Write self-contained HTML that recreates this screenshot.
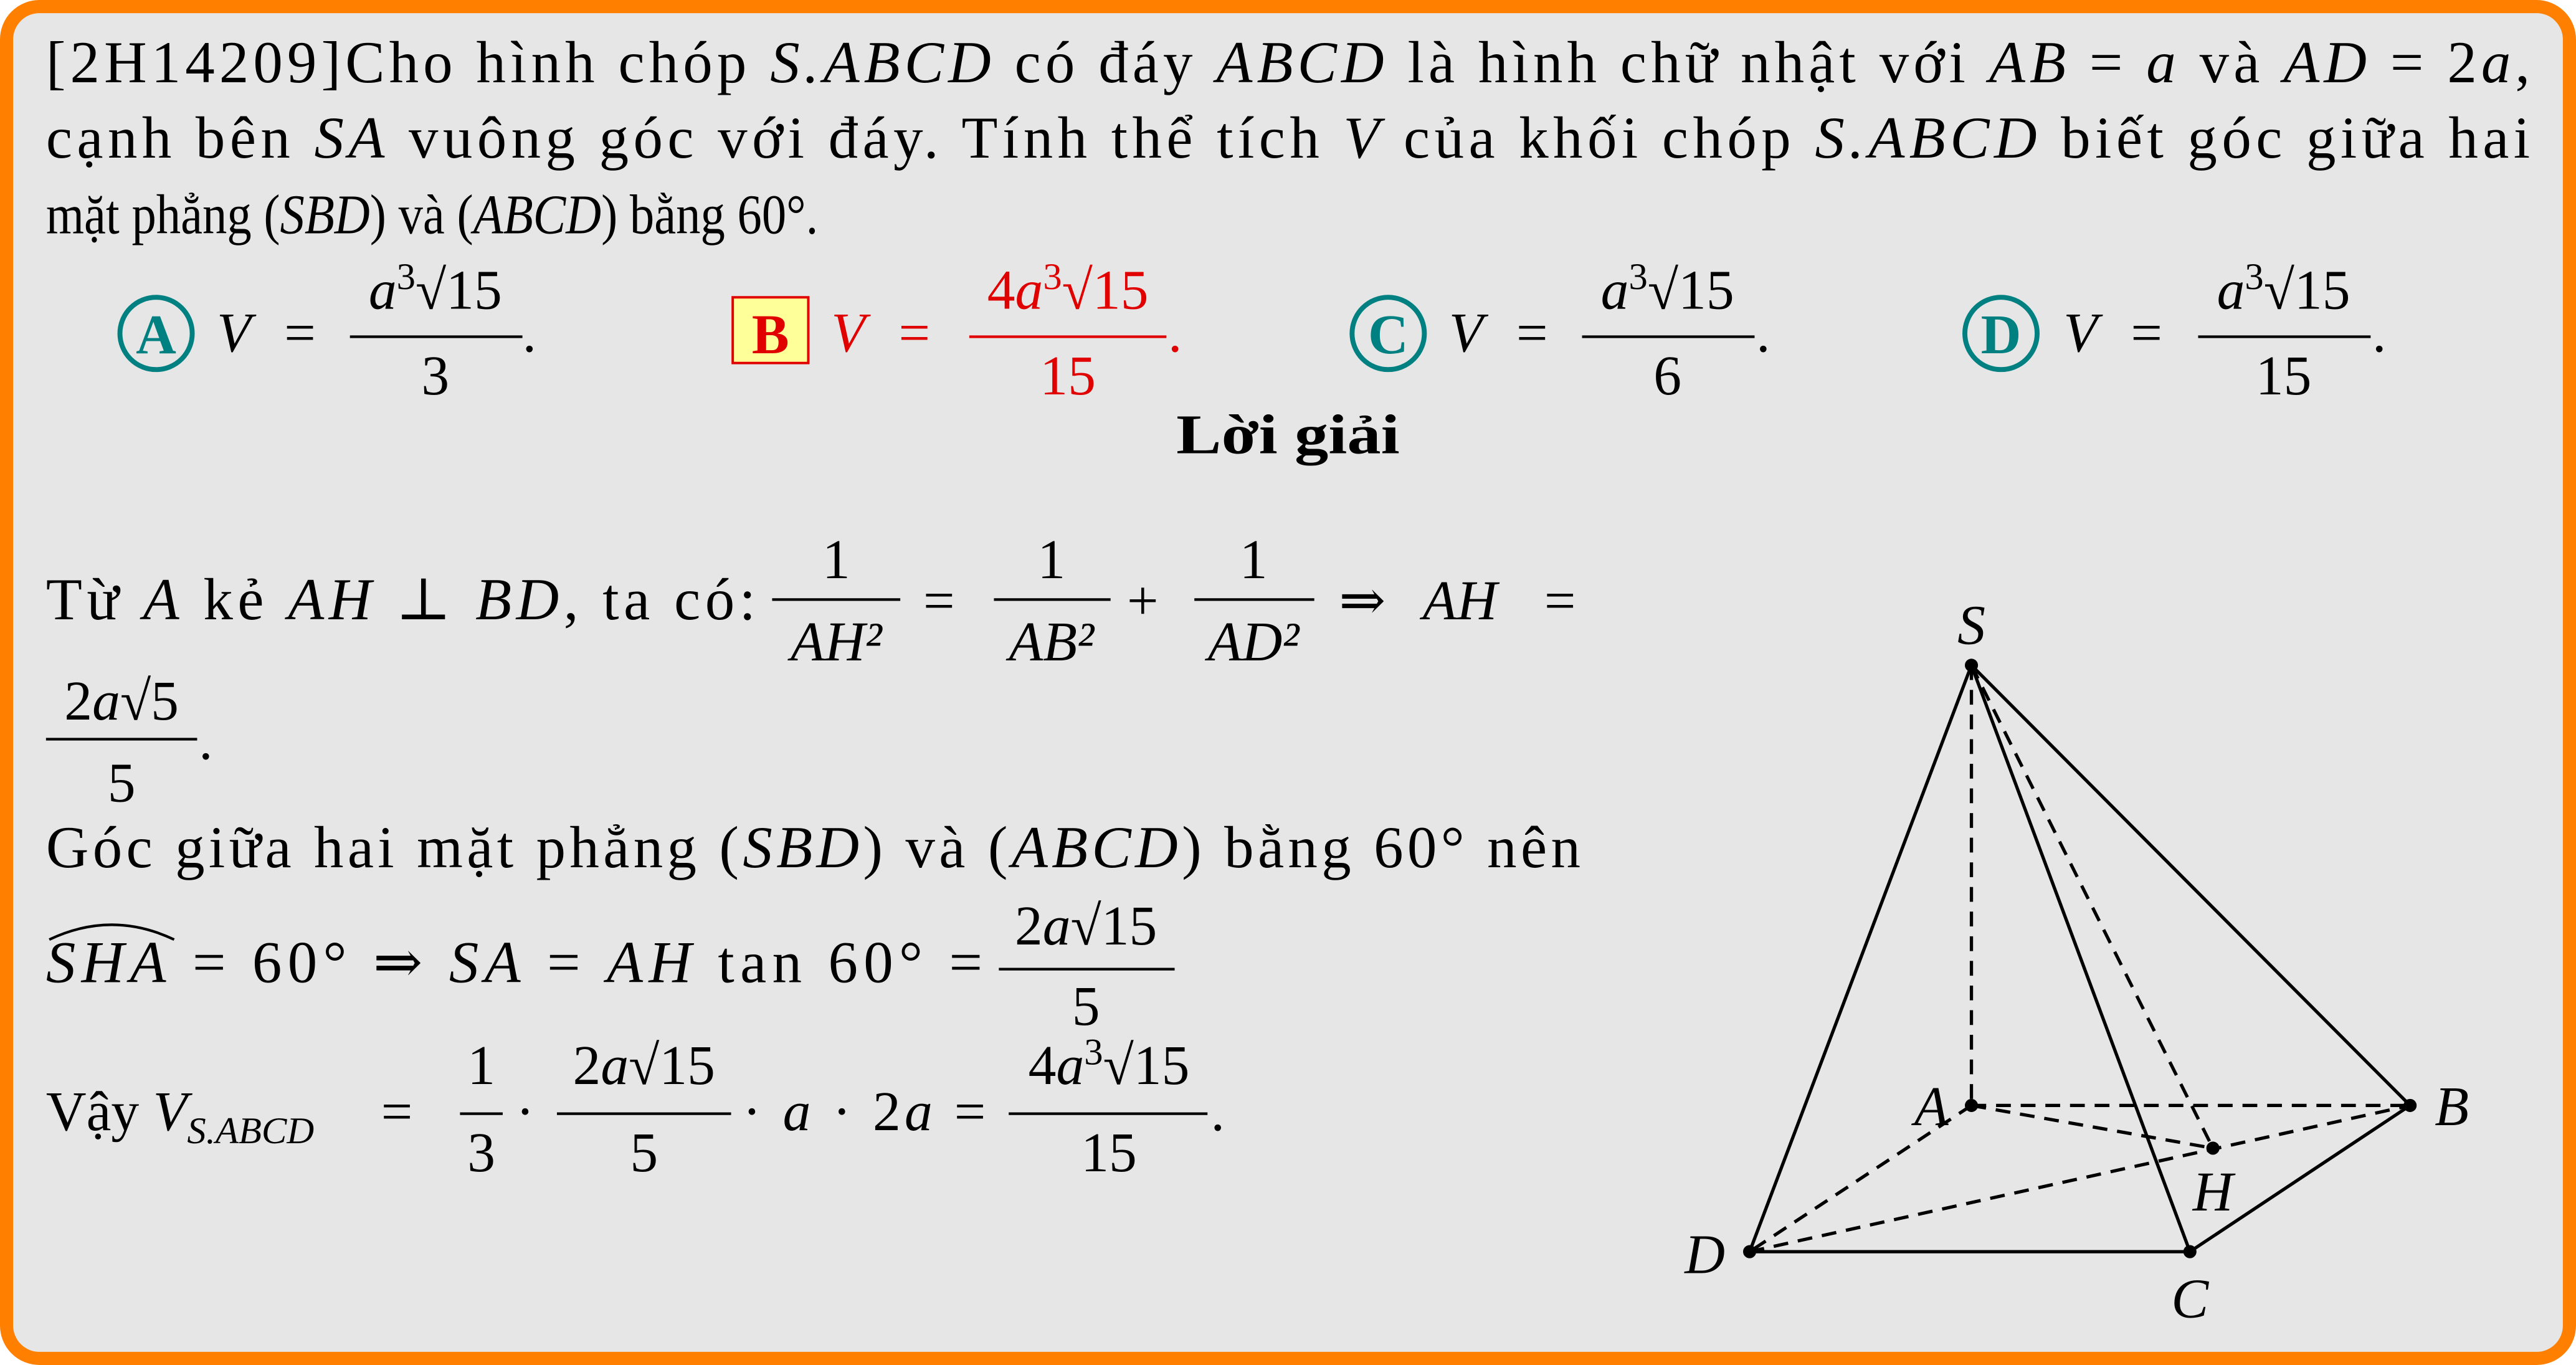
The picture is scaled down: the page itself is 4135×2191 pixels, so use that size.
<!DOCTYPE html>
<html><head><meta charset="utf-8"><style>
html,body{margin:0;padding:0;background:#fff;}
svg{display:block;}
text{font-family:"Liberation Serif","DejaVu Serif",serif;font-size:34px;fill:#000;}
.i{font-style:italic;}
.s{font-size:23px;}
.q{font-size:36px;}
</style></head><body>
<svg width="4135" height="2191" viewBox="0 0 1568 831" preserveAspectRatio="none" xmlns="http://www.w3.org/2000/svg">
<rect x="4" y="4" width="1560" height="823" rx="20" fill="#e6e6e6" stroke="#ff8000" stroke-width="8"/>

<g>
<text class="q" x="28" y="50" textLength="1512" lengthAdjust="spacing">[2H14209]Cho hình chóp <tspan class="i">S.ABCD</tspan> có đáy <tspan class="i">ABCD</tspan> là hình chữ nhật với <tspan class="i">AB</tspan> = <tspan class="i">a</tspan> và <tspan class="i">AD</tspan> = 2<tspan class="i">a</tspan>,</text>
<text class="q" x="28" y="96" textLength="1512" lengthAdjust="spacing">cạnh bên <tspan class="i">SA</tspan> vuông góc với đáy. Tính thể tích <tspan class="i">V</tspan> của khối chóp <tspan class="i">S.ABCD</tspan> biết góc giữa hai</text>
<text x="28" y="142" textLength="470" lengthAdjust="spacingAndGlyphs">mặt phẳng (<tspan class="i">SBD</tspan>) và (<tspan class="i">ABCD</tspan>) bằng 60°.</text>
</g>

<g>
<circle cx="95" cy="203" r="22" fill="none" stroke="#008080" stroke-width="3"/>
<text x="95" y="215" text-anchor="middle" font-weight="bold" style="fill:#008080">A</text>
<text x="132" y="214" class="i">V</text><text x="173" y="214">=</text>
<text x="265" y="188" text-anchor="middle"><tspan class="i">a</tspan><tspan class="s" dy="-12">3</tspan><tspan dy="12">√15</tspan></text>
<line x1="213" y1="205" x2="318" y2="205" stroke="#000" stroke-width="1.6"/>
<text x="265" y="240" text-anchor="middle">3</text><text x="318" y="214">.</text>
</g>

<g>
<rect x="446" y="181" width="46" height="40" fill="#ffff99" stroke="#e00000" stroke-width="1.5"/>
<text x="469" y="215" text-anchor="middle" font-weight="bold" style="fill:#e00000">B</text>
<text x="506" y="214" class="i" style="fill:#e00000">V</text><text x="547" y="214" style="fill:#e00000">=</text>
<text x="650" y="188" text-anchor="middle" style="fill:#e00000">4<tspan class="i">a</tspan><tspan class="s" dy="-12">3</tspan><tspan dy="12">√15</tspan></text>
<line x1="590" y1="205" x2="710" y2="205" stroke="#e00000" stroke-width="1.6"/>
<text x="650" y="240" text-anchor="middle" style="fill:#e00000">15</text><text x="711" y="214" style="fill:#e00000">.</text>
</g>

<g>
<circle cx="845" cy="203" r="22" fill="none" stroke="#008080" stroke-width="3"/>
<text x="845" y="215" text-anchor="middle" font-weight="bold" style="fill:#008080">C</text>
<text x="882" y="214" class="i">V</text><text x="923" y="214">=</text>
<text x="1015" y="188" text-anchor="middle"><tspan class="i">a</tspan><tspan class="s" dy="-12">3</tspan><tspan dy="12">√15</tspan></text>
<line x1="963" y1="205" x2="1068" y2="205" stroke="#000" stroke-width="1.6"/>
<text x="1015" y="240" text-anchor="middle">6</text><text x="1069" y="214">.</text>
</g>

<g>
<circle cx="1218" cy="203" r="22" fill="none" stroke="#008080" stroke-width="3"/>
<text x="1218" y="215" text-anchor="middle" font-weight="bold" style="fill:#008080">D</text>
<text x="1256" y="214" class="i">V</text><text x="1297" y="214">=</text>
<text x="1390" y="188" text-anchor="middle"><tspan class="i">a</tspan><tspan class="s" dy="-12">3</tspan><tspan dy="12">√15</tspan></text>
<line x1="1338" y1="205" x2="1443" y2="205" stroke="#000" stroke-width="1.6"/>
<text x="1390" y="240" text-anchor="middle">15</text><text x="1444" y="214">.</text>
</g>

<text x="784" y="276" text-anchor="middle" font-weight="bold" textLength="136" lengthAdjust="spacingAndGlyphs">Lời giải</text>

<g>
<text class="q" x="28" y="377" textLength="432" lengthAdjust="spacing">Từ <tspan class="i">A</tspan> kẻ <tspan class="i">AH</tspan> ⊥ <tspan class="i">BD</tspan>, ta có:</text>
<text x="509" y="352" text-anchor="middle">1</text><line x1="470" y1="365" x2="548" y2="365" stroke="#000" stroke-width="1.6"/><text x="509" y="402" text-anchor="middle" class="i">AH²</text>
<text x="562" y="377">=</text>
<text x="640" y="352" text-anchor="middle">1</text><line x1="605" y1="365" x2="676" y2="365" stroke="#000" stroke-width="1.6"/><text x="640" y="402" text-anchor="middle" class="i">AB²</text>
<text x="686" y="377">+</text>
<text x="763" y="352" text-anchor="middle">1</text><line x1="727" y1="365" x2="800" y2="365" stroke="#000" stroke-width="1.6"/><text x="763" y="402" text-anchor="middle" class="i">AD²</text>
<text x="815" y="377">⇒</text><text x="866" y="377" class="i">AH</text><text x="940" y="377">=</text>
<text x="74" y="438" text-anchor="middle">2<tspan class="i">a</tspan>√5</text><line x1="28" y1="450" x2="120" y2="450" stroke="#000" stroke-width="1.6"/><text x="74" y="488" text-anchor="middle">5</text><text x="121" y="462">.</text>
<text class="q" x="28" y="528" textLength="934" lengthAdjust="spacing">Góc giữa hai mặt phẳng (<tspan class="i">SBD</tspan>) và (<tspan class="i">ABCD</tspan>) bằng 60° nên</text>
<path d="M30 572 Q68 554 106 572" fill="none" stroke="#000" stroke-width="1.6"/>
<text class="q" x="28" y="598" textLength="570" lengthAdjust="spacing"><tspan class="i">SHA</tspan> = 60° ⇒ <tspan class="i">SA</tspan> = <tspan class="i">AH</tspan> tan 60° =</text>
<text x="661" y="575" text-anchor="middle">2<tspan class="i">a</tspan>√15</text><line x1="608" y1="590" x2="715" y2="590" stroke="#000" stroke-width="1.6"/><text x="661" y="624" text-anchor="middle">5</text>
<text x="28" y="688">Vậy <tspan class="i">V</tspan><tspan class="i s" dy="8">S.ABCD</tspan></text><text x="232" y="688">=</text>
<text x="293" y="660" text-anchor="middle">1</text><line x1="280" y1="678" x2="306" y2="678" stroke="#000" stroke-width="1.6"/><text x="293" y="713" text-anchor="middle">3</text>
<text x="314" y="688">·</text>
<text x="392" y="660" text-anchor="middle">2<tspan class="i">a</tspan>√15</text><line x1="339" y1="678" x2="445" y2="678" stroke="#000" stroke-width="1.6"/><text x="392" y="713" text-anchor="middle">5</text>
<text x="452" y="688" textLength="148" lengthAdjust="spacing">· <tspan class="i">a</tspan> · 2<tspan class="i">a</tspan> =</text>
<text x="675" y="660" text-anchor="middle">4<tspan class="i">a</tspan><tspan class="s" dy="-12">3</tspan><tspan dy="12">√15</tspan></text><line x1="614" y1="678" x2="735" y2="678" stroke="#000" stroke-width="1.6"/><text x="675" y="713" text-anchor="middle">15</text><text x="737" y="688">.</text>
</g>

<g stroke="#000" stroke-width="2" fill="none">
<g>
<line x1="1200" y1="405" x2="1065" y2="762"/>
<line x1="1200" y1="405" x2="1333" y2="762"/>
<line x1="1200" y1="405" x2="1467" y2="673"/>
<line x1="1065" y1="762" x2="1333" y2="762"/>
<line x1="1333" y1="762" x2="1467" y2="673"/>
</g>
<g stroke-dasharray="9,6">
<line x1="1200" y1="405" x2="1200" y2="673"/>
<line x1="1200" y1="405" x2="1347" y2="699"/>
<line x1="1200" y1="673" x2="1467" y2="673"/>
<line x1="1200" y1="673" x2="1065" y2="762"/>
<line x1="1200" y1="673" x2="1347" y2="699"/>
<line x1="1065" y1="762" x2="1467" y2="673"/>
</g>
<g fill="#000" stroke="none">
<circle cx="1200" cy="405" r="4"/><circle cx="1200" cy="673" r="4"/><circle cx="1467" cy="673" r="4"/>
<circle cx="1333" cy="762" r="4"/><circle cx="1065" cy="762" r="4"/><circle cx="1347" cy="699" r="4"/>
</g>
</g>
<g>
<text class="i" x="1200" y="392" text-anchor="middle">S</text>
<text class="i" x="1186" y="685" text-anchor="end">A</text>
<text class="i" x="1482" y="685">B</text>
<text class="i" x="1333" y="802" text-anchor="middle">C</text>
<text class="i" x="1050" y="775" text-anchor="end">D</text>
<text class="i" x="1347" y="737" text-anchor="middle">H</text>
</g>
</svg>
</body></html>
